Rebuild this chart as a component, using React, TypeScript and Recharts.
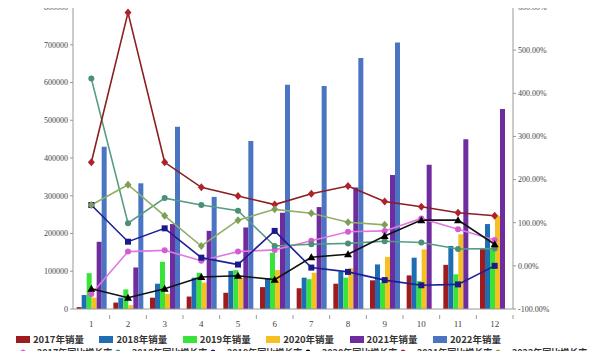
import React from 'react';
import { ComposedChart, Bar, Line, XAxis, YAxis, Legend } from 'recharts';

const months = ['1', '2', '3', '4', '5', '6', '7', '8', '9', '10', '11', '12'];

// monthly sales per year (left axis)
const sales2017 = [5000, 17000, 30000, 33000, 43000, 58000, 55000, 67000, 76000, 89000, 117000, 161000];
const sales2018 = [37000, 30000, 67000, 83000, 101000, 81000, 83000, 99000, 118000, 136000, 167000, 225000];
const sales2019 = [95000, 52000, 125000, 96000, 103000, 149000, 79000, 83000, 70000, 74000, 92000, 158000];
const sales2020 = [30000, 10000, 40000, 70000, 83000, 103000, 96000, 108000, 138000, 158000, 198000, 247000];
const sales2021 = [178000, 110000, 225000, 207000, 216000, 255000, 270000, 322000, 355000, 382000, 450000, 530000];
const sales2022 = [430000, 333000, 483000, 297000, 445000, 594000, 591000, 665000, 706000, null, null, null];

// year-on-year growth in % (right axis)
const growth2017 = [-65, 33, 36, 12, 33, 37, 58, 79, 81, 110, 85, 60];
const growth2018 = [434, 99, 157, 141, 128, 46, 50, 52, 57, 54, 39, 40];
const growth2019 = [141, 56, 87, 19, 3, 81, -4, -14, -33, -45, -43, 0];
const growth2020 = [-53, -74, -53, -26, -23, -32, 20, 27, 69, 106, 106, 50];
const growth2021 = [240, 587, 240, 182, 162, 142, 167, 185, 149, 137, 123, 116];
const growth2022 = [141, 188, 116, 46, 106, 131, 122, 101, 95, null, null, null];

const leftTicks = [0, 100000, 200000, 300000, 400000, 500000, 600000, 700000, 800000];
const rightTicks = [-100, 0, 100, 200, 300, 400, 500, 600];

const barSeries = [
  { key: 's2017', name: '2017年销量', color: '#a01b1e', values: sales2017 },
  { key: 's2018', name: '2018年销量', color: '#1f6db3', values: sales2018 },
  { key: 's2019', name: '2019年销量', color: '#38e43a', values: sales2019 },
  { key: 's2020', name: '2020年销量', color: '#f6bf22', values: sales2020 },
  { key: 's2021', name: '2021年销量', color: '#6e2c9e', values: sales2021 },
  { key: 's2022', name: '2022年销量', color: '#4b74c3', values: sales2022 },
];

const lineSeries = [
  { key: 'g2017', name: '2017年同比增长率', color: '#e07ae0', marker: '#d65ad6', shape: 'circle', values: growth2017 },
  { key: 'g2018', name: '2018年同比增长率', color: '#559c82', marker: '#4a8f76', shape: 'circle', values: growth2018 },
  { key: 'g2019', name: '2019年同比增长率', color: '#1e1e96', marker: '#1a1a8a', shape: 'square', values: growth2019 },
  { key: 'g2020', name: '2020年同比增长率', color: '#111111', marker: '#000000', shape: 'triangle', values: growth2020 },
  { key: 'g2021', name: '2021年同比增长率', color: '#8a1f22', marker: '#b0222a', shape: 'diamond', values: growth2021 },
  { key: 'g2022', name: '2022年同比增长率', color: '#8fae68', marker: '#7f9e58', shape: 'diamond', values: growth2022 },
];

const data = months.map((m, i) => {
  const row: any = { month: m };
  barSeries.forEach(s => { row[s.key] = s.values[i]; });
  lineSeries.forEach(s => { row[s.key] = s.values[i]; });
  return row;
});

const BAND = 440 / months.length;

const makeDot = (shape: string, color: string) => (props: any) => {
  const { cx, cy, index, value } = props;
  const k = `dot-${index}`;
  if (cx == null || cy == null || value == null) return <g key={k} />;
  if (shape === 'square') return <rect key={k} x={cx - 3} y={cy - 3} width={6} height={6} fill={color} />;
  if (shape === 'triangle')
    return <polygon key={k} points={`${cx},${cy - 4} ${cx + 4},${cy + 3} ${cx - 4},${cy + 3}`} fill={color} />;
  if (shape === 'diamond')
    return <polygon key={k} points={`${cx},${cy - 4} ${cx + 3.5},${cy} ${cx},${cy + 4} ${cx - 3.5},${cy}`} fill={color} />;
  return <circle key={k} cx={cx} cy={cy} r={3} fill={color} />;
};

const XTick = (props: any) => {
  const { x, y, payload } = props;
  return (
    <g>
      <line x1={x + BAND / 2} x2={x + BAND / 2} y1={y - 2} y2={y + 2} stroke="#999" />
      <text x={x} y={y + 10} textAnchor="middle" fontSize={9} fill="#444" fontFamily="'Liberation Serif', serif">
        {payload.value}
      </text>
    </g>
  );
};

const renderLegend = () => (
  <div style={{ position: 'relative', width: 600, height: 28, fontFamily: "'Noto Sans CJK SC', sans-serif", fontWeight: 700, color: '#333' }}>
    {barSeries.map((s, i) => (
      <div key={s.key} style={{ position: 'absolute', left: 16 + i * 83.4, top: 1, fontSize: 9.5, display: 'flex', alignItems: 'center', whiteSpace: 'nowrap', lineHeight: '14px', height: 14 }}>
        <span style={{ display: 'inline-block', width: 14, height: 7, background: s.color, marginRight: 3 }} />
        {s.name}
      </div>
    ))}
    {lineSeries.map((s, i) => (
      <div key={s.key} style={{ position: 'absolute', left: 12 + i * 95, top: 14.5, fontSize: 9, display: 'flex', alignItems: 'center', whiteSpace: 'nowrap', lineHeight: '13px', height: 13 }}>
        <svg width={22} height={8} style={{ marginRight: 3 }}>
          <line x1={0} x2={22} y1={4} y2={4} stroke={s.color} strokeWidth={1.5} />
          <circle cx={11} cy={4} r={2.5} fill={s.marker} />
        </svg>
        {s.name}
      </div>
    ))}
  </div>
);

export default function App() {
  return (
    <div style={{ margin: -8, width: 600, height: 359, overflow: 'hidden', background: '#fff' }}>
      <ComposedChart
        width={600}
        height={359}
        data={data}
        margin={{ top: 7, right: 0, bottom: 0, left: 8 }}
        barGap={0}
        barCategoryGap="10%"
      >
        <XAxis
          dataKey="month"
          height={22}
          axisLine={{ stroke: '#999' }}
          tickLine={false}
          tick={<XTick />}
          interval={0}
        />
        <YAxis
          yAxisId="left"
          width={65}
          domain={[0, 800000]}
          ticks={leftTicks}
          interval={0}
          axisLine={{ stroke: '#999' }}
          tickLine={{ stroke: '#999' }}
          tickSize={3}
          tickMargin={2}
          tick={{ fontSize: 8, fill: '#444', fontFamily: "'Liberation Serif', serif" }}
        />
        <YAxis
          yAxisId="right"
          orientation="right"
          width={87}
          domain={[-100, 600]}
          ticks={rightTicks}
          interval={0}
          axisLine={{ stroke: '#999' }}
          tickLine={{ stroke: '#999' }}
          tickSize={3}
          tickMargin={2}
          tickFormatter={(v: number) => `${v.toFixed(2)}%`}
          tick={{ fontSize: 8, fill: '#444', fontFamily: "'Liberation Serif', serif" }}
        />
        <Legend
          verticalAlign="bottom"
          height={28}
          wrapperStyle={{ left: 0, top: 331, bottom: 'auto', width: 600, height: 28 }}
          content={renderLegend}
        />
        {barSeries.map(s => (
          <Bar key={s.key} yAxisId="left" dataKey={s.key} name={s.name} fill={s.color} isAnimationActive={false} />
        ))}
        {lineSeries.map(s => (
          <Line
            key={s.key}
            yAxisId="right"
            type="linear"
            dataKey={s.key}
            name={s.name}
            stroke={s.color}
            strokeWidth={1.6}
            dot={makeDot(s.shape, s.marker)}
            activeDot={false}
            isAnimationActive={false}
          />
        ))}
      </ComposedChart>
    </div>
  );
}
